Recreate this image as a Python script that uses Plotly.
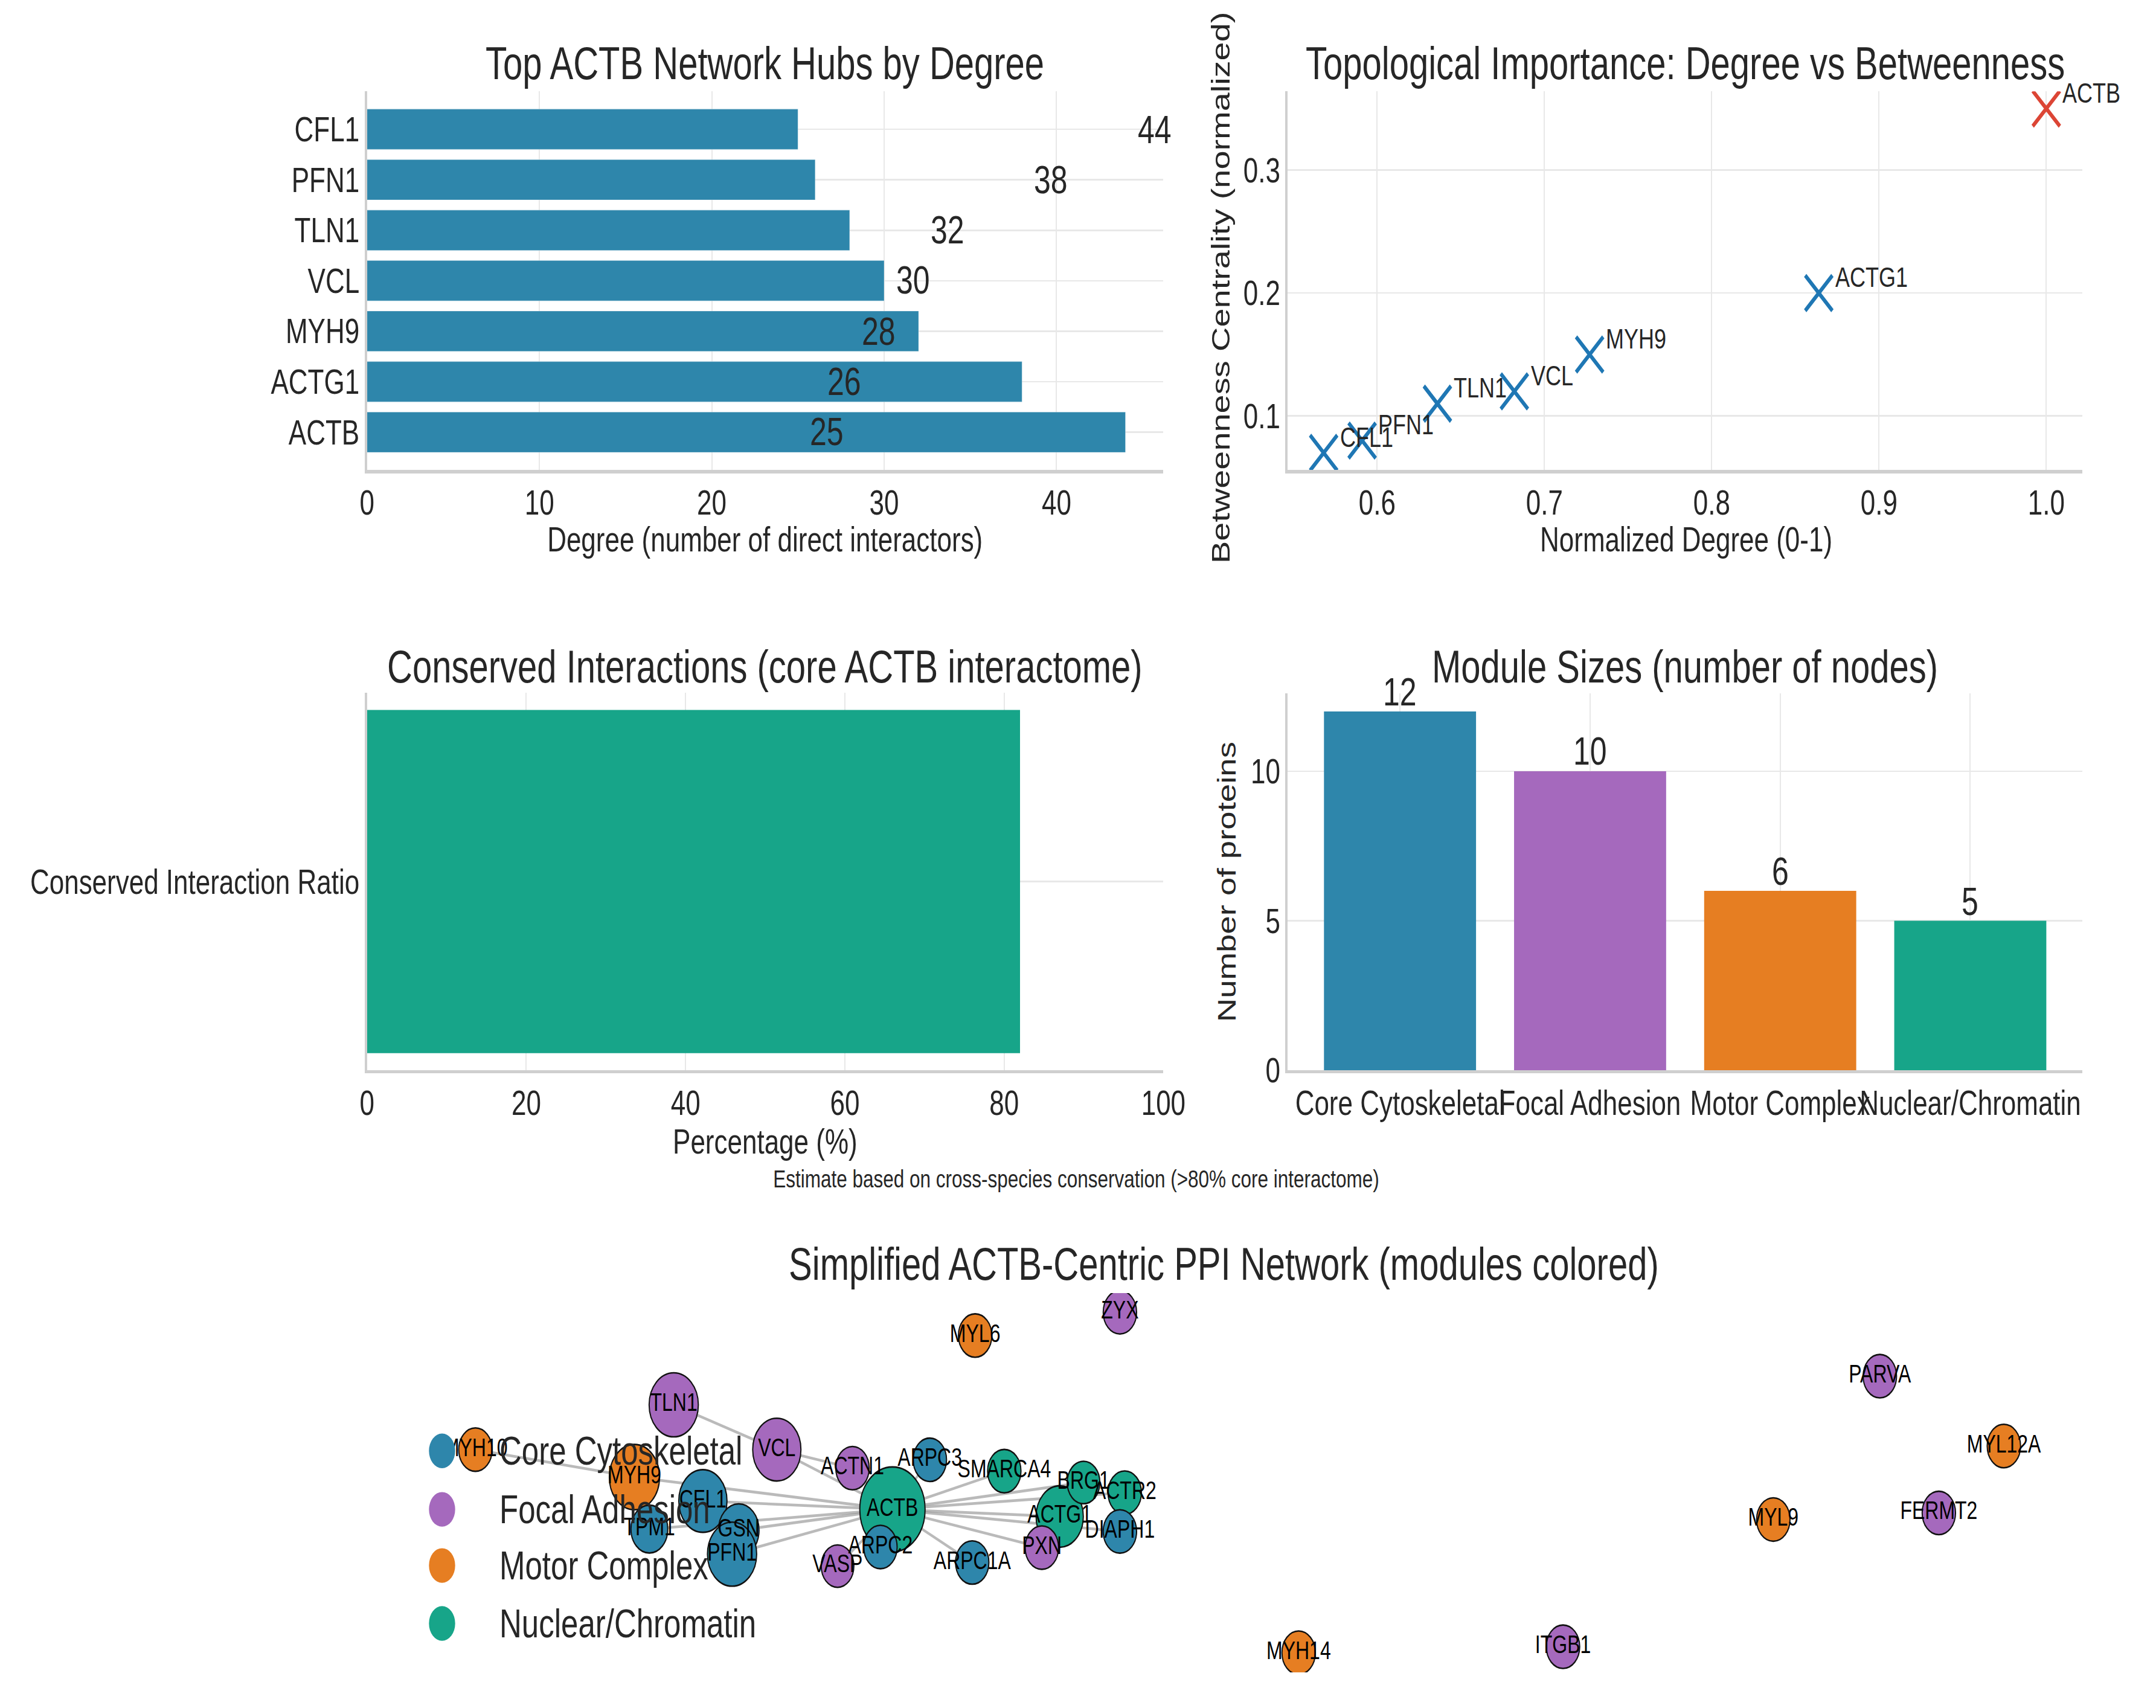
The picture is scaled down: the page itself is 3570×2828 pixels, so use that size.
import math
import plotly.graph_objects as go

W, H = 3570, 2828          # final picture size
STRETCH = 1.3              # the reference is drawn with a vertical stretch
HL = round(H / STRETCH)    # layout height before the vertical stretch
S = H / HL

# ---------------- data ----------------
hub_genes = ["ACTB", "ACTG1", "MYH9", "VCL", "TLN1", "PFN1", "CFL1"]
hub_degree = [44, 38, 32, 30, 28, 26, 25]
hub_value_labels = [25, 26, 28, 30, 32, 38, 44]   # numbers as printed beside the bars

scatter_genes = ["CFL1", "PFN1", "TLN1", "VCL", "MYH9", "ACTG1", "ACTB"]
scatter_norm_degree = [0.568, 0.591, 0.636, 0.682, 0.727, 0.864, 1.0]
scatter_betweenness = [0.07, 0.08, 0.11, 0.12, 0.15, 0.20, 0.35]

conserved_categories = ["Conserved Interaction Ratio"]
conserved_percent = [82]

module_names = ["Core Cytoskeletal", "Focal Adhesion", "Motor Complex", "Nuclear/Chromatin"]
module_sizes = [12, 10, 6, 5]

net_nodes = ["MYH10", "MYH9", "TLN1", "VCL", "ACTN1", "ACTB", "ARPC2", "ARPC3", "CFL1", "TPM1",
             "GSN", "PFN1", "VASP", "ARPC1A", "SMARCA4", "ACTG1", "BRG1", "PXN", "ACTR2", "DIAPH1",
             "MYL6", "ZYX", "PARVA", "MYL12A", "FERMT2", "MYL9", "MYH14", "ITGB1"]
net_node_module = ["Motor Complex", "Motor Complex", "Focal Adhesion", "Focal Adhesion", "Focal Adhesion",
                   "Nuclear/Chromatin", "Core Cytoskeletal", "Core Cytoskeletal", "Core Cytoskeletal",
                   "Core Cytoskeletal", "Core Cytoskeletal", "Core Cytoskeletal", "Focal Adhesion",
                   "Core Cytoskeletal", "Nuclear/Chromatin", "Nuclear/Chromatin", "Nuclear/Chromatin",
                   "Focal Adhesion", "Nuclear/Chromatin", "Core Cytoskeletal", "Motor Complex",
                   "Focal Adhesion", "Focal Adhesion", "Motor Complex", "Focal Adhesion", "Motor Complex",
                   "Motor Complex", "Focal Adhesion"]
net_node_x = [0.0632, 0.1559, 0.1788, 0.2389, 0.2830, 0.3063, 0.2993, 0.3281, 0.1958, 0.1646,
              0.2167, 0.2128, 0.2743, 0.3528, 0.3715, 0.4038, 0.4177, 0.3934, 0.4417, 0.4389,
              0.3545, 0.4389, 0.8819, 0.9542, 0.9163, 0.8198, 0.5431, 0.6972]
net_node_y = [0.5874, 0.5150, 0.7055, 0.5874, 0.5386, 0.4299, 0.3307, 0.5606, 0.4520, 0.3780,
              0.3748, 0.3118, 0.2803, 0.2898, 0.5307, 0.4110, 0.5008, 0.3291, 0.4740, 0.3717,
              0.8882, 0.9496, 0.7811, 0.5969, 0.4205, 0.4031, 0.0520, 0.0677]
net_node_weight = [11.5, 26, 25, 24, 11.5, 44, 11.5, 11.5, 24, 14,
                   17, 25, 11, 11.5, 11.5, 23, 11, 11.5, 11.5, 11.5,
                   11.5, 11.5, 11.5, 11.5, 11.5, 11.5, 11.5, 11.5]
net_edges = [("ACTB", "CFL1"), ("ACTB", "PFN1"), ("ACTB", "GSN"), ("ACTB", "TPM1"), ("ACTB", "MYH9"),
             ("ACTB", "VCL"), ("ACTB", "ACTN1"), ("ACTB", "ARPC2"), ("ACTB", "ARPC3"),
             ("ACTB", "ARPC1A"), ("ACTB", "SMARCA4"), ("ACTB", "BRG1"), ("ACTB", "ACTR2"),
             ("ACTB", "ACTG1"), ("ACTB", "DIAPH1"), ("ACTB", "PXN"), ("ACTB", "VASP"),
             ("TLN1", "VCL"), ("VCL", "ACTN1"), ("MYH10", "MYH9")]

# ---------------- styling ----------------
FONT = "Liberation Sans"
BLUE = "#2E86AB"
PURPLE = "#A569BD"
ORANGE = "#E67E22"
GREEN = "#17A589"
MODULE_COLORS = {"Core Cytoskeletal": BLUE, "Focal Adhesion": PURPLE,
                 "Motor Complex": ORANGE, "Nuclear/Chromatin": GREEN}
SC_BLUE = "#1F77B4"
SC_RED = "#DC4535"
TXT = "#262626"
GRID = "#e8e8e8"
AXL = "#cfcfcf"


def X(px):
    return px / W


def Y(py):
    return 1 - py / H


def ax(**kw):
    d = dict(showgrid=True, gridcolor=GRID, gridwidth=2, showline=True, linecolor=AXL, linewidth=3.5,
             zeroline=False, ticks="", tickangle=0,
             tickfont=dict(family=FONT, size=44, color=TXT))
    d.update(kw)
    return d


fig = go.Figure()

# ---- panel 1: hubs by degree ----
fig.add_trace(go.Bar(x=hub_degree, y=hub_genes, orientation="h", width=0.8,
                     marker=dict(color=BLUE, line=dict(width=1, color="rgba(255,255,255,0.35)")),
                     xaxis="x", yaxis="y", showlegend=False))

# ---- panel 2: degree vs betweenness ----
sc_colors = [SC_RED if g == "ACTB" else SC_BLUE for g in scatter_genes]
fig.add_trace(go.Scatter(x=scatter_norm_degree, y=scatter_betweenness, mode="markers",
                         marker=dict(symbol="x-thin", size=45, color=sc_colors,
                                     line=dict(width=5.5, color=sc_colors)),
                         xaxis="x2", yaxis="y2", showlegend=False))

# ---- panel 3: conserved interactions ----
fig.add_trace(go.Bar(x=conserved_percent, y=conserved_categories, orientation="h", width=0.8,
                     marker=dict(color=GREEN, line=dict(width=0)), xaxis="x3", yaxis="y3",
                     showlegend=False))

# ---- panel 4: module sizes ----
fig.add_trace(go.Bar(x=module_names, y=module_sizes, width=0.8,
                     marker=dict(color=[MODULE_COLORS[m] for m in module_names], line=dict(width=0)),
                     xaxis="x4", yaxis="y4", showlegend=False))

# ---- panel 5: network ----
pos = {n: (x, y) for n, x, y in zip(net_nodes, net_node_x, net_node_y)}
ex, ey = [], []
for a, b in net_edges:
    ex += [pos[a][0], pos[b][0], None]
    ey += [pos[a][1], pos[b][1], None]
fig.add_trace(go.Scatter(x=ex, y=ey, mode="lines",
                         line=dict(color="rgba(140,140,140,0.6)", width=3.5),
                         xaxis="x5", yaxis="y5", showlegend=False, hoverinfo="skip"))
fig.add_trace(go.Scatter(x=net_node_x, y=net_node_y, mode="markers",
                         marker=dict(size=[16.3 * math.sqrt(w) for w in net_node_weight],
                                     color=[MODULE_COLORS[m] for m in net_node_module],
                                     line=dict(color="#111111", width=2), opacity=1),
                         xaxis="x5", yaxis="y5", showlegend=False))
fig.add_trace(go.Scatter(x=net_node_x, y=net_node_y, mode="text", text=net_nodes,
                         textfont=dict(family=FONT, size=32, color="black"),
                         xaxis="x5", yaxis="y5", showlegend=False))

ann = []


def text(x, y, s, size, anchor="center", vanchor="middle", angle=0, **kw):
    d = dict(x=x, y=y, xref="paper", yref="paper", text=s, showarrow=False,
             xanchor=anchor, yanchor=vanchor, textangle=angle,
             font=dict(family=FONT, size=size, color=TXT))
    d.update(kw)
    ann.append(d)


# titles
text(X(1272), Y(106), "Top ACTB Network Hubs by Degree", 58)
text(X(2817), Y(106), "Topological Importance: Degree vs Betweenness", 58)
text(X(1272), Y(1115), "Conserved Interactions (core ACTB interactome)", 58)
text(X(2817), Y(1115), "Module Sizes (number of nodes)", 58)
text(X(2043), Y(2116), "Simplified ACTB-Centric PPI Network (modules colored)", 58)

# axis titles
text(X(1272), Y(902), "Degree (number of direct interactors)", 44)
text(X(2819), Y(902), "Normalized Degree (0-1)", 44)
text(X(1272), Y(1911), "Percentage (%)", 44)
text(X(2037), Y(482), "Betweenness Centrality (normalized)", 43, angle=-90)
text(X(2048), Y(1476), "Number of proteins", 42, angle=-90)

# caption
text(X(1795), Y(1973), "Estimate based on cross-species conservation (>80% core interactome)", 31.5)

# bar value labels (panel 1)
for g, v in zip(hub_genes, hub_value_labels):
    ann.append(dict(x=v, y=g, xref="x", yref="y", text=str(v), showarrow=False,
                    xanchor="left", yanchor="middle", xshift=18,
                    font=dict(family=FONT, size=50, color=TXT)))

# scatter labels (panel 2)
for g, xv, yv in zip(scatter_genes, scatter_norm_degree, scatter_betweenness):
    ann.append(dict(x=xv, y=yv, xref="x2", yref="y2", text=g, showarrow=False,
                    xanchor="left", yanchor="bottom", xshift=25, yshift=-3 / S,
                    font=dict(family=FONT, size=36, color=TXT)))

# module bar labels (panel 4)
for m, v in zip(module_names, module_sizes):
    ann.append(dict(x=m, y=v, xref="x4", yref="y4", text=str(v), showarrow=False,
                    xanchor="center", yanchor="bottom", yshift=-7 / S,
                    font=dict(family=FONT, size=50, color=TXT)))

# network legend
shapes = []
legend_y = [2429, 2527, 2621, 2718]
for m, ly in zip(module_names, legend_y):
    shapes.append(dict(type="circle", xref="paper", yref="paper",
                       x0=X(730 - 22), x1=X(730 + 22), y0=Y(ly + 29), y1=Y(ly - 29),
                       fillcolor=MODULE_COLORS[m], line=dict(width=0), layer="above"))
    text(X(824), Y(ly), m, 51, anchor="left")

fig.update_layout(
    width=W, height=HL, autosize=False,
    margin=dict(l=0, r=0, t=0, b=0),
    paper_bgcolor="white", plot_bgcolor="white",
    font=dict(family=FONT, color=TXT),
    xaxis=ax(domain=[X(604), X(1941)], anchor="y", range=[0, 46.2], tickvals=[0, 10, 20, 30, 40]),
    yaxis=ax(domain=[Y(787), Y(153)], anchor="x", range=[-0.75, 6.75], type="category",
             categoryorder="array", categoryarray=hub_genes),
    xaxis2=ax(domain=[X(2150), X(3484)], anchor="y2", range=[0.5466, 1.0216],
              tickvals=[0.6, 0.7, 0.8, 0.9, 1.0], tickformat=".1f"),
    yaxis2=ax(domain=[Y(787), Y(153)], anchor="x2", range=[0.056, 0.364],
              tickvals=[0.1, 0.2, 0.3], tickformat=".1f"),
    xaxis3=ax(domain=[X(604), X(1941)], anchor="y3", range=[0, 100],
              tickvals=[0, 20, 40, 60, 80, 100]),
    yaxis3=ax(domain=[Y(1792), Y(1160)], anchor="x3", range=[-0.44, 0.44], type="category"),
    xaxis4=ax(domain=[X(2150), X(3484)], anchor="y4", range=[-0.59, 3.59], type="category",
              categoryorder="array", categoryarray=module_names),
    yaxis4=ax(domain=[Y(1792), Y(1161)], anchor="x4", range=[0, 12.6], tickvals=[0, 5, 10]),
    xaxis5=dict(domain=[X(604), X(3484)], anchor="y5", range=[0, 1], visible=False),
    yaxis5=dict(domain=[Y(2800), Y(2165)], anchor="x5", range=[0, 1], visible=False),
    annotations=ann,
    shapes=shapes,
)

post = ("document.body.style.margin='0';document.body.style.overflow='hidden';"
        "var gd=document.getElementById('{plot_id}');"
        "gd.style.transformOrigin='0 0';gd.style.transform='scaleY(%.5f)';" % S)
fig.write_html("out.html", config={"displayModeBar": False}, post_script=post)
